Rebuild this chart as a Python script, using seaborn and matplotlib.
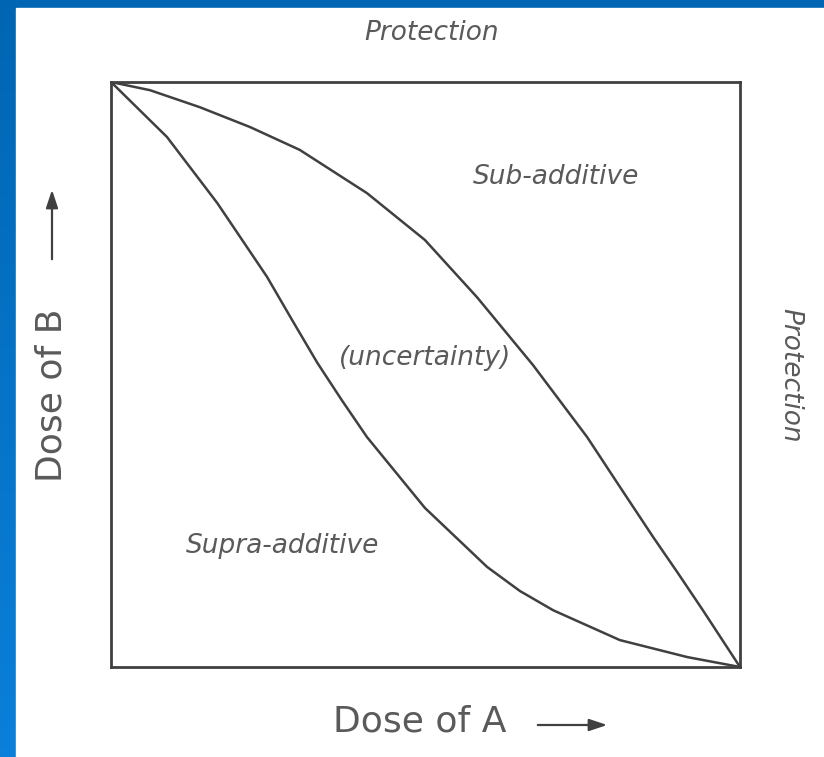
import numpy as np
import pandas as pd
import seaborn as sns
import matplotlib.pyplot as plt
from matplotlib.patches import Rectangle

# isobole curves (fraction of dose A, fraction of dose B)
sub_x = [0.0, 0.062, 0.141, 0.221, 0.300, 0.407, 0.499, 0.582, 0.671, 0.757,
         0.809, 0.862, 0.901, 0.941, 1.0]
sub_y = [1.0, 0.986, 0.957, 0.923, 0.884, 0.810, 0.730, 0.632, 0.516, 0.393,
         0.308, 0.222, 0.161, 0.097, 0.0]

supra_x = [0.0, 0.089, 0.169, 0.248, 0.288, 0.328, 0.367, 0.407, 0.499, 0.598,
           0.650, 0.703, 0.809, 0.916, 1.0]
supra_y = [1.0, 0.906, 0.793, 0.667, 0.593, 0.520, 0.456, 0.393, 0.272, 0.171,
           0.130, 0.097, 0.046, 0.017, 0.0]

region_labels = ["Sub-additive", "(uncertainty)", "Supra-additive"]
region_pos = [(0.708, 0.837), (0.499, 0.528), (0.272, 0.207)]

sns.set_theme(style="white")
plt.rcParams["font.family"] = ["DejaVu Sans"]

W, H = 824, 757
fig = plt.figure(figsize=(W / 100, H / 100), dpi=100)
fig.patch.set_facecolor("#0066b3")

# blue frame: left strip gets lighter towards the bottom, white page on top
grad = fig.add_axes([0, 0, 16 / W, 1])
grad.imshow(np.linspace(0, 1, 100).reshape(-1, 1), aspect="auto",
            cmap=sns.blend_palette(["#0066b3", "#0a80da"], as_cmap=True))
grad.axis("off")
fig.patches.append(Rectangle((16 / W, 0), 1 - 16 / W, 1 - 8 / H,
                             transform=fig.transFigure, color="white", zorder=1))

ax = fig.add_axes([111 / W, 90 / H, 629 / W, 585 / H])
ax.set_zorder(2)
df = pd.concat([
    pd.DataFrame({"a": sub_x, "b": sub_y, "curve": "sub"}),
    pd.DataFrame({"a": supra_x, "b": supra_y, "curve": "supra"}),
])
sns.lineplot(data=df, x="a", y="b", units="curve", estimator=None, sort=False,
             color="#404040", linewidth=1.8, ax=ax)
ax.set_xlim(0, 1)
ax.set_ylim(0, 1)
ax.set_xticks([])
ax.set_yticks([])
ax.set_xlabel("")
ax.set_ylabel("")
for s in ax.spines.values():
    s.set_color("#404040")
    s.set_linewidth(2)
ax.set_facecolor("white")

txt = "#5a5a5a"
for lab, (x, y) in zip(region_labels, region_pos):
    ax.text(x, y, lab, style="italic", fontsize=19, color=txt, ha="center", va="center")

fig.text(432 / W, 1 - 33 / H, "Protection", style="italic", fontsize=19,
         color=txt, ha="center", va="center", zorder=3)
fig.text(790 / W, 1 - 375 / H, "Protection", style="italic", fontsize=19,
         color=txt, ha="center", va="center", rotation=-90, zorder=3)

fig.text(333 / W, 1 - 722 / H, "Dose of A", fontsize=26, color=txt,
         ha="left", va="center", zorder=3)
fig.text(52 / W, 1 - 482 / H, "Dose of B", fontsize=26, color=txt,
         ha="center", va="bottom", rotation=90, zorder=3)

arrow = dict(arrowstyle="-|>,head_length=0.9,head_width=0.3", color="#404040", lw=1.6)
fig.add_artist(plt.Annotation("", xy=(610 / W, 1 - 725 / H), xytext=(535 / W, 1 - 725 / H),
                              xycoords="figure fraction", arrowprops=arrow, zorder=3))
fig.add_artist(plt.Annotation("", xy=(52 / W, 1 - 187 / H), xytext=(52 / W, 1 - 262 / H),
                              xycoords="figure fraction", arrowprops=arrow, zorder=3))

fig.savefig("out.png", dpi=100)
